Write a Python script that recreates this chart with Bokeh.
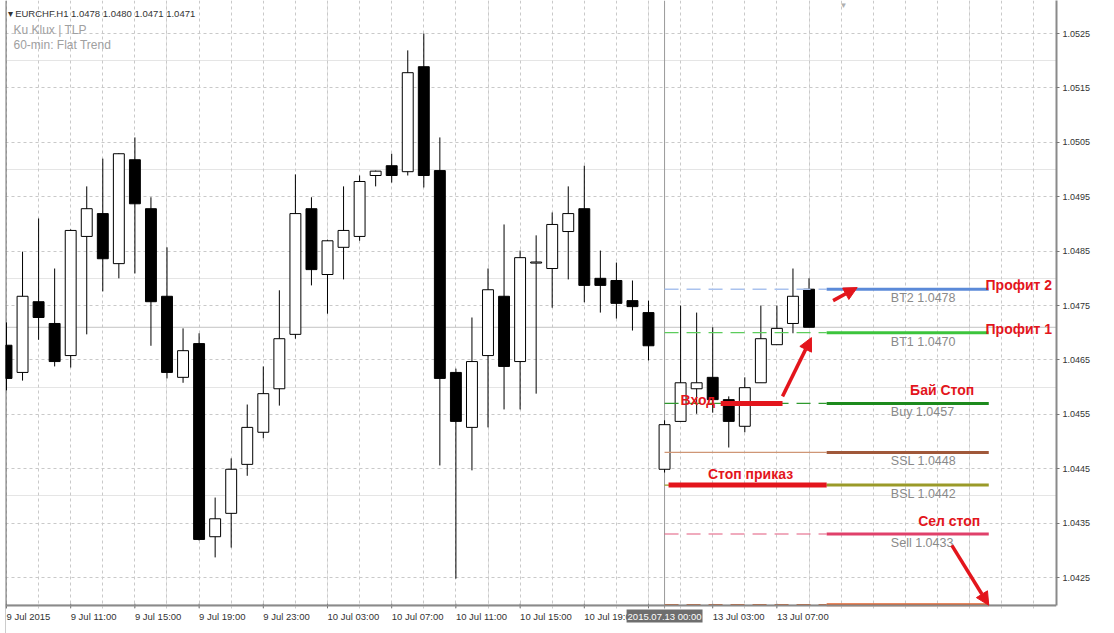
from bokeh.plotting import figure
from bokeh.models import (ColumnDataSource, Range1d, LinearAxis, FixedTicker, PrintfTickFormatter,
                          Span, Label, Arrow, NormalHead, Grid, BoxAnnotation)
from bokeh.core.properties import value
from bokeh.embed import file_html
from bokeh.resources import INLINE

# ---------------- data (EURCHF H1 candles) ----------------
opens = [1.04677, 1.04627, 1.04757, 1.04717, 1.04658, 1.04877, 1.04919, 1.04827, 1.05018, 1.04928,
         1.04767, 1.04618, 1.04680, 1.04325, 1.04368, 1.04458, 1.04517, 1.04597, 1.04697, 1.04928,
         1.04807, 1.04857, 1.04877, 1.04989, 1.05007, 1.04996, 1.05189, 1.04998, 1.04627, 1.04526,
         1.04658, 1.04767, 1.04647, 1.04828, 1.04818, 1.04886, 1.04928, 1.04800, 1.04796, 1.04759,
         1.04737, 1.04449, 1.04537, 1.04597, 1.04618, 1.04577, 1.04528, 1.04608, 1.04678, 1.04717,
         1.0478]
highs = [1.04719, 1.04849, 1.04910, 1.04818, 1.04890, 1.04969, 1.05020, 1.05030, 1.05059, 1.04949,
         1.04857, 1.04708, 1.04699, 1.04397, 1.04469, 1.04568, 1.04638, 1.04778, 1.04991, 1.04949,
         1.04871, 1.04969, 1.04989, 1.04998, 1.05029, 1.05219, 1.05250, 1.05059, 1.04634, 1.04728,
         1.04818, 1.04899, 1.04851, 1.04879, 1.04921, 1.04969, 1.05007, 1.04851, 1.04829, 1.04796,
         1.04759, 1.04539, 1.04750, 1.04737, 1.04710, 1.04583, 1.04618, 1.04750, 1.04750, 1.04818,
         1.0480]
lows = [1.04594, 1.04612, 1.04687, 1.04638, 1.04636, 1.04697, 1.04776, 1.04800, 1.04809, 1.04676,
        1.04616, 1.04608, 1.04318, 1.04287, 1.04305, 1.04437, 1.04506, 1.04566, 1.04689, 1.04787,
        1.04735, 1.04798, 1.04869, 1.04969, 1.04976, 1.04989, 1.04967, 1.04456, 1.04248, 1.04447,
        1.04526, 1.04559, 1.04559, 1.04588, 1.04746, 1.04798, 1.04756, 1.04737, 1.04726, 1.04704,
        1.04649, 1.04443, 1.04537, 1.04551, 1.04553, 1.04489, 1.04517, 1.04608, 1.04678, 1.04699,
        1.0471]
closes = [1.04616, 1.04767, 1.04728, 1.04647, 1.04888, 1.04928, 1.04836, 1.05029, 1.04937, 1.04757,
          1.04627, 1.04667, 1.04320, 1.04358, 1.04449, 1.04526, 1.04588, 1.04689, 1.04919, 1.04816,
          1.04869, 1.04888, 1.04978, 1.04997, 1.04989, 1.05178, 1.04989, 1.04616, 1.04537, 1.04647,
          1.04779, 1.04638, 1.04838, 1.04830, 1.04899, 1.04919, 1.04787, 1.04787, 1.04754, 1.04748,
          1.04676, 1.04531, 1.04608, 1.04608, 1.04577, 1.04537, 1.04599, 1.04689, 1.04708, 1.04767,
          1.0471]

x_tick_idx = [0, 4, 8, 12, 16, 20, 24, 28, 32, 36, 40, 44, 48]
x_tick_labels = ["9 Jul 2015", "9 Jul 11:00", "9 Jul 15:00", "9 Jul 19:00", "9 Jul 23:00",
                 "10 Jul 03:00", "10 Jul 07:00", "10 Jul 11:00", "10 Jul 15:00", "10 Jul 19:00",
                 "10 Jul 23:00", "13 Jul 03:00", "13 Jul 07:00"]
y_ticks = [1.0425, 1.0435, 1.0445, 1.0455, 1.0465, 1.0475, 1.0485, 1.0495, 1.0505, 1.0515, 1.0525]

header_lines = ["\u25be EURCHF.H1  1.0478 1.0480 1.0471 1.0471", "Ku Klux | TLP", "60-min: Flat Trend"]
last_price = 1.0471
cursor_idx = 41
cursor_text = "2015.07.13 00:00"

# order levels
level_names = ["BT2 1.0478", "BT1 1.0470", "Buy 1.0457", "SSL 1.0448", "BSL 1.0442", "Sell 1.0433", ""]
level_prices = [1.0478, 1.0470, 1.0457, 1.0448, 1.0442, 1.0433, 1.0420]
level_from, level_mid, level_to = 41, 51.1, 61.2
label_x = 55.1

# red hand-drawn annotations
note_texts = ["Профит 2", "Профит 1", "Бай Стоп", "Вход", "Стоп приказ", "Сел стоп"]
note_x = [61.0, 61.0, 56.3, 42.0, 43.7, 56.8]
note_y = [1.04787, 1.04706, 1.04594, 1.04577, 1.04441, 1.04353]
entry_x0, entry_x1, entry_y = 44.5, 48.35, 1.0457
stop_x0, stop_x1, stop_y = 41.25, 51.1, 1.0442
arrow_x0 = [51.5, 48.35, 58.9]
arrow_y0 = [1.04759, 1.04583, 1.04309]
arrow_x1 = [53.0, 50.15, 61.2]
arrow_y1 = [1.04783, 1.04691, 1.04199]

# ---------------- layout / styles ----------------
X_START, X_END = -0.062, 65.42
Y_TOP, Y_BOTTOM = 1.053107, 1.041471      # frame covers the whole canvas height
AXIS_Y = 1.041985                          # price at which the time axis is drawn
TICK_HI, TICK_LO = 1.04202, 1.04193
FONT = "Liberation Sans"
left_styles = [("#a9c2ee", "14 8", 1.5), ("#5ccc5c", "14 8", 1.2), ("#2e9a2e", "14 8", 1.2),
               ("#cf9676", "solid", 1.2), ("#9a9a28", "14 8", 1.2), ("#e2587c", "14 8", 1.2),
               ("#c8602c", "14 8", 1.5)]
right_colors = ["#5b8ad8", "#3cc43c", "#1d8a1d", "#a0583a", "#9a9a28", "#e0406a", "#e2602a"]
RED = "#e3151c"
AXIS_COL = "#8a8a8a"

n = len(opens)
idx = list(range(n))
bull = [c >= o for o, c in zip(opens, closes)]
src = ColumnDataSource(dict(
    x=idx, high=highs, low=lows,
    top=[max(o, c) for o, c in zip(opens, closes)],
    bottom=[min(o, c) for o, c in zip(opens, closes)],
    fill=["#ffffff" if b else "#000000" for b in bull],
))

p = figure(width=1114, height=633, output_backend="svg", toolbar_location=None,
           x_range=Range1d(X_START, X_END), y_range=Range1d(Y_BOTTOM, Y_TOP),
           x_axis_location=None, y_axis_location=None,
           min_border_left=5, min_border_top=0, min_border_right=58, min_border_bottom=0)
p.outline_line_color = None
p.background_fill_color = "#ffffff"
p.border_fill_color = "#ffffff"

# grids
xg = Grid(dimension=0, ticker=FixedTicker(ticks=list(range(0, 66, 2))),
          grid_line_color="#c9c9c9", grid_line_dash="3 3", grid_line_width=1)
yg = Grid(dimension=1, ticker=FixedTicker(ticks=y_ticks),
          grid_line_color="#c9c9c9", grid_line_dash="3 3", grid_line_width=1)
p.add_layout(xg)
p.add_layout(yg)

# price axis (right)
yaxis = LinearAxis(ticker=FixedTicker(ticks=y_ticks), formatter=PrintfTickFormatter(format="%.4f"),
                   bounds=(AXIS_Y, Y_TOP),
                   axis_line_color=AXIS_COL, axis_line_width=2,
                   major_tick_line_color="#777777", major_tick_out=3, major_tick_in=0,
                   minor_tick_line_color=None, major_label_standoff=3,
                   major_label_text_font_size="9px", major_label_text_color="#333333",
                   major_label_text_font=FONT)
p.add_layout(yaxis, "right")

# frame left border, last-price line, cursor line
p.add_layout(Span(location=-0.04, dimension="height", line_color="#333333", line_width=1, level="underlay"))
p.add_layout(Span(location=last_price, dimension="width", line_color="#c4c4c4", line_width=1, level="underlay"))
p.add_layout(Span(location=cursor_idx, dimension="height", line_color="#9a9a9a", line_width=1, level="underlay"))

# candles
p.segment(x0="x", y0="low", x1="x", y1="high", source=src, line_color="#000000", line_width=1)
p.vbar(x="x", width=0.68, top="top", bottom="bottom", source=src,
       fill_color="fill", line_color="#000000", line_width=1)

# order levels
for i, pr in enumerate(level_prices):
    col, dash, lw = left_styles[i]
    p.segment(x0=[level_from], y0=[pr], x1=[level_mid], y1=[pr], line_color=col,
              line_dash=dash, line_width=lw)
    p.segment(x0=[level_mid], y0=[pr], x1=[level_to], y1=[pr], line_color=right_colors[i],
              line_width=3)

lab_src = ColumnDataSource(dict(x=[label_x] * len(level_names), y=level_prices, t=level_names))
p.text(x="x", y="y", text="t", source=lab_src, text_font=value(FONT), text_font_size="12.5px",
       text_color="#8a8a8a", text_baseline="top", text_align="left", y_offset=2)

# red thick marks
p.segment(x0=[entry_x0], y0=[entry_y], x1=[entry_x1], y1=[entry_y], line_color=RED, line_width=5)
p.segment(x0=[stop_x0], y0=[stop_y], x1=[stop_x1], y1=[stop_y], line_color=RED, line_width=5)

note_src = ColumnDataSource(dict(x=note_x, y=note_y, t=note_texts))
p.text(x="x", y="y", text="t", source=note_src, text_font=value(FONT), text_font_size="14px",
       text_font_style="bold", text_color=RED, text_baseline="middle", text_align="left")

# time-axis tick marks
p.segment(x0=x_tick_idx, y0=[TICK_HI] * len(x_tick_idx), x1=x_tick_idx, y1=[TICK_LO] * len(x_tick_idx),
          line_color="#777777", line_width=1)

# blank strip below the time axis (the time scale area)
p.add_layout(BoxAnnotation(top=TICK_LO, fill_color="#ffffff", fill_alpha=1.0, line_color=None))
p.add_layout(Span(location=AXIS_Y, dimension="width", line_color=AXIS_COL, line_width=2))

for x0, y0, x1, y1 in zip(arrow_x0, arrow_y0, arrow_x1, arrow_y1):
    p.add_layout(Arrow(x_start=x0, y_start=y0, x_end=x1, y_end=y1, line_color=RED, line_width=3.5,
                       end=NormalHead(size=13, fill_color=RED, line_color=RED)))

# time labels, left-aligned at their ticks (MetaTrader style)
for i, t in zip(x_tick_idx, x_tick_labels):
    p.add_layout(Label(x=i, y=17.5, x_units="data", y_units="screen", x_offset=0, text=t,
                       text_font=FONT, text_font_size="9.5px", text_color="#333333",
                       text_align="left", text_baseline="middle"))

# header
hy = [620, 604, 589]
hs = ["9.5px", "12px", "12px"]
hc = ["#333333", "#a0a0a0", "#a0a0a0"]
hx = [2, 8, 8]
for t, y, s, c, x in zip(header_lines, hy, hs, hc, hx):
    p.add_layout(Label(x=x, y=y, x_units="screen", y_units="screen", text=t, text_font=FONT,
                       text_font_size=s, text_color=c, text_baseline="middle"))

# chart shift marker
p.add_layout(Label(x=838, y=628, x_units="screen", y_units="screen", text="\u25bc",
                   text_font=FONT, text_font_size="8px", text_color="#b0b0b0",
                   text_align="center", text_baseline="middle"))

# price box on axis and cursor time box
p.add_layout(Label(x=1055, y=last_price, x_units="screen", y_units="data", text="1.0471",
                   text_font=FONT, text_font_size="9px", text_color="#ffffff",
                   text_baseline="middle", background_fill_color="#000000", padding=1))
p.add_layout(Label(x=cursor_idx, y=17.5, x_units="data", y_units="screen", text=cursor_text,
                   text_font=FONT, text_font_size="9.5px", text_color="#ffffff", text_align="center",
                   text_baseline="middle", background_fill_color="#6e6e6e", padding=1))

open("out.html", "w").write(file_html(p, INLINE))
